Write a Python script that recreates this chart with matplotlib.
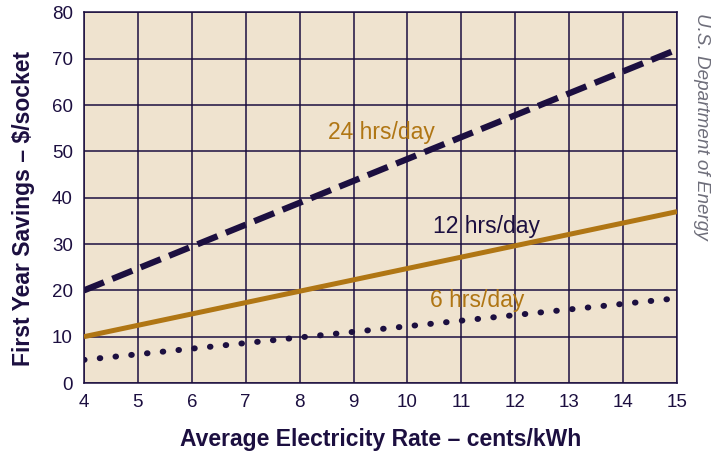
import numpy as np
from matplotlib import pyplot as plt

plt.rcParams['font.family'] = ['Liberation Sans', 'DejaVu Sans']

# data
rate = [4, 15]
hrs24 = [20, 72]
hrs12 = [10, 37]
hrs6 = [5, 18.3]

navy = '#1c0f40'
gold = '#b07614'
paper = '#efe3cf'

fig = plt.figure(figsize=(7.19, 4.53), dpi=100)
ax = fig.add_axes([0.1168, 0.1545, 0.8248, 0.818])
ax.set_facecolor(paper)

ax.plot(rate, hrs24, color=navy, lw=4.5, dashes=(3.45, 1.45), solid_capstyle='butt', zorder=3)
ax.plot(rate, hrs12, color=gold, lw=3.6, solid_capstyle='butt', zorder=3)
ax.plot(rate, hrs6, color=navy, lw=4.3, linestyle=(0, (0.1, 2.55)), dash_capstyle='round', zorder=3)

ax.text(9.51, 54, '24 hrs/day', color=gold, fontsize=16.5, ha='center', va='center')
ax.text(11.46, 33.7, '12 hrs/day', color=navy, fontsize=16.5, ha='center', va='center')
ax.text(11.29, 17.9, '6 hrs/day', color=gold, fontsize=16.5, ha='center', va='center')

ax.set_xlim(4, 15)
ax.set_ylim(0, 80)
ax.set_xticks(np.arange(4, 16, 1))
ax.set_yticks(np.arange(0, 90, 10))
ax.grid(True, color=navy, lw=1.1)
ax.set_axisbelow(True)
for s in ax.spines.values():
    s.set_color(navy)
    s.set_linewidth(1.1)
ax.tick_params(length=0, labelsize=13.5, labelcolor=navy, pad=8)

ax.set_xlabel('Average Electricity Rate \u2013 cents/kWh', fontsize=16.5, fontweight='bold',
              color=navy, labelpad=12)
ax.set_ylabel('First Year Savings \u2013 $/socket', fontsize=16.5, fontweight='bold',
              color=navy)
ax.yaxis.set_label_coords(-0.082, 0.472)

fig.text(0.976, 0.72, 'U.S. Department of Energy', rotation=-90, style='italic',
         color='#6e6e7a', fontsize=13.6, ha='center', va='center')

fig.savefig('out.png', dpi=100)
